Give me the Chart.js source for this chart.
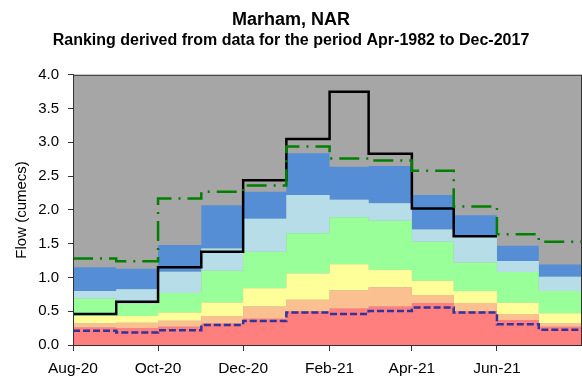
<!DOCTYPE html>
<html>
<head>
<meta charset="utf-8">
<script src="https://cdn.jsdelivr.net/npm/chart.js@4/dist/chart.umd.min.js"></script>
<style>
  html, body { margin: 0; padding: 0; background: #fff; }
  #wrap { width: 582px; height: 376px; position: relative; }
  canvas { display: block; }
</style>
</head>
<body>
<div id="wrap"><canvas id="c" width="582" height="376"></canvas></div>
<script>
// Months shown (each value holds for the whole month)
const months = ['Aug-20','Sep-20','Oct-20','Nov-20','Dec-20','Jan-21',
                'Feb-21','Mar-21','Apr-21','May-21','Jun-21','Jul-21'];
const tickMonths = ['Aug-20','Oct-20','Dec-20','Feb-21','Apr-21','Jun-21'];
const endMonth = 'Aug-21';

// Upper limits of each ranking band (cumecs)
const exLowTop     = [0.26, 0.25, 0.27, 0.32, 0.39, 0.50, 0.54, 0.57, 0.62, 0.50, 0.37, 0.27];
const notLowTop    = [0.32, 0.33, 0.36, 0.43, 0.57, 0.67, 0.81, 0.855, 0.74, 0.62, 0.46, 0.32];
const belowNormTop = [0.43, 0.43, 0.48, 0.63, 0.84, 1.06, 1.195, 1.11, 0.95, 0.80, 0.625, 0.47];
const normalTop    = [0.69, 0.61, 0.77, 1.10, 1.38, 1.655, 1.89, 1.84, 1.53, 1.22, 1.08, 0.80];
const aboveNormTop = [0.80, 0.825, 1.086, 1.43, 1.87, 2.22, 2.15, 2.10, 1.71, 1.60, 1.244, 1.01];
const notHighTop   = [1.15, 1.13, 1.48, 2.07, 2.27, 2.84, 2.64, 2.65, 2.22, 1.92, 1.47, 1.19];

// Monthly mean flows
const observedFlow = [0.46, 0.64, 1.15, 1.38, 2.44, 3.05, 3.75, 2.83, 2.02, 1.61, null, null];
const minimumFlow  = [0.21, 0.185, 0.22, 0.296, 0.356, 0.48, 0.46, 0.505, 0.555, 0.48, 0.306, 0.225];
const longTermMean = [1.28, 1.24, 2.17, 2.27, 2.36, 2.94, 2.76, 2.73, 2.58, 2.05, 1.64, 1.53];

const FONT = 'Liberation Sans, Arial, sans-serif';
const MON = ['Jan','Feb','Mar','Apr','May','Jun','Jul','Aug','Sep','Oct','Nov','Dec'];
const t0 = Date.UTC(2020, 7, 1);
function dayOf(label) {
  const [m, y] = label.split('-');
  return (Date.UTC(2000 + Number(y), MON.indexOf(m), 1) - t0) / 864e5;
}
const starts = months.map(dayOf);
const endDay = dayOf(endMonth);

// Step points: one at each month start, plus one closing the last month
function steps(vals) {
  const pts = [];
  let last = null;
  vals.forEach((v, i) => {
    if (v == null) {
      if (last != null) { pts.push({ x: starts[i], y: last }); last = null; }
      return;
    }
    pts.push({ x: starts[i], y: v });
    last = v;
  });
  if (last != null) pts.push({ x: endDay, y: last });
  return pts;
}

function band(vals, color, fill) {
  return {
    data: steps(vals), stepped: 'before', fill: fill,
    backgroundColor: color, borderWidth: 0, borderColor: color,
    pointRadius: 0, order: 1
  };
}

const plotFrame = {
  id: 'plotFrame',
  beforeDatasetsDraw(chart) {
    const { ctx, chartArea: a } = chart;
    ctx.save();
    ctx.fillStyle = '#a6a6a6';
    ctx.fillRect(a.left, a.top, a.right - a.left, a.bottom - a.top);
    ctx.restore();
  },
  afterDatasetsDraw(chart) {
    const { ctx, chartArea: a } = chart;
    ctx.save();
    ctx.strokeStyle = '#333';
    ctx.lineWidth = 1;
    ctx.strokeRect(a.left + 0.5, a.top + 0.5, a.right - a.left - 1, a.bottom - a.top);
    ctx.restore();
  }
};

new Chart(document.getElementById('c'), {
  type: 'line',
  data: {
    datasets: [
      band(exLowTop, '#ff7f7f', 'origin'),
      band(notLowTop, '#fac090', '-1'),
      band(belowNormTop, '#ffff99', '-1'),
      band(normalTop, '#99ff99', '-1'),
      band(aboveNormTop, '#b7dee8', '-1'),
      band(notHighTop, '#558ed5', '-1'),
      { data: steps(minimumFlow), stepped: 'before', fill: false, borderColor: '#333399',
        borderWidth: 2.5, borderDash: [7, 3], pointRadius: 0, order: 0 },
      { data: steps(longTermMean), stepped: 'before', fill: false, borderColor: '#008000',
        borderWidth: 2.5, borderDash: [20, 7, 2, 7], pointRadius: 0, order: 0 },
      { data: steps(observedFlow), stepped: 'before', fill: false, borderColor: '#000000',
        borderWidth: 2.5, pointRadius: 0, order: 0 }
    ]
  },
  options: {
    responsive: false,
    animation: false,
    devicePixelRatio: 1,
    layout: { padding: 0 },
    plugins: {
      legend: { display: false },
      tooltip: { enabled: false },
      title: {
        display: true, text: 'Marham, NAR', color: '#000',
        font: { family: FONT, size: 18, weight: 'bold' },
        padding: { top: 9, bottom: 0 }
      },
      subtitle: {
        display: true, text: 'Ranking derived from data for the period Apr-1982 to Dec-2017',
        color: '#000', font: { family: FONT, size: 16, weight: 'bold' },
        padding: { top: 0, bottom: 25 }
      }
    },
    scales: {
      x: {
        type: 'linear', min: 0, max: endDay,
        afterBuildTicks: s => { s.ticks = tickMonths.map(l => ({ value: dayOf(l) })); },
        afterFit: s => { s.height = 31; },
        ticks: {
          autoSkip: false, maxRotation: 0, padding: 8, color: '#000',
          font: { family: FONT, size: 15.5 },
          callback: (v, i) => tickMonths[i]
        },
        grid: { drawOnChartArea: false, tickLength: 6, color: '#333' },
        border: { color: '#333', width: 1 }
      },
      y: {
        min: 0, max: 4,
        afterFit: s => { s.width = 73; },
        ticks: {
          stepSize: 0.5, padding: 9, color: '#000',
          font: { family: FONT, size: 15 },
          callback: v => v.toFixed(1)
        },
        grid: { drawOnChartArea: false, tickLength: 5, color: '#333' },
        border: { color: '#333', width: 1 },
        title: {
          display: true, text: 'Flow (cumecs)', color: '#000',
          font: { family: FONT, size: 15 },
          padding: { top: 13, bottom: 0 }
        }
      }
    }
  },
  plugins: [plotFrame]
});
</script>
</body>
</html>
